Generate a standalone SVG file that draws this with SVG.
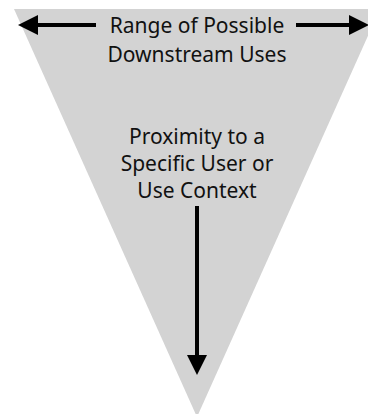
<svg xmlns="http://www.w3.org/2000/svg" width="368" height="414" viewBox="0 0 368 414">
<style>
.lbl{font-family:"Noto Sans","Liberation Sans",Arial,sans-serif;font-size:21px;fill:#111;text-anchor:middle}
.ln{stroke:#000;stroke-width:4;fill:none}
</style>
<defs>
<marker id="ah" markerUnits="userSpaceOnUse" markerWidth="20" markerHeight="20" viewBox="0 0 18 18" refX="0" refY="9" orient="auto">
<path d="M0,0 L18,9 L0,18 Z" fill="#000"/>
</marker>
</defs>
<rect width="368" height="414" fill="#fff"/>
<g id="funnel">
<polygon points="14,9 380,9 197,417" fill="#d3d3d3"/>
</g>
<g id="range">
<text class="lbl" x="197" y="33">Range of Possible</text>
<text class="lbl" x="197" y="61.5">Downstream Uses</text>
</g>
<g id="proximity">
<text class="lbl" x="197" y="144">Proximity to a</text>
<text class="lbl" x="197" y="171">Specific User or</text>
<text class="lbl" x="197" y="198">Use Context</text>
</g>
<g id="connectors">
<path class="ln" d="M96,25 H38" marker-end="url(#ah)"/>
<path class="ln" d="M296,25 H349" marker-end="url(#ah)"/>
<path class="ln" d="M197,206 V355" marker-end="url(#ah)"/>
</g>
</svg>
